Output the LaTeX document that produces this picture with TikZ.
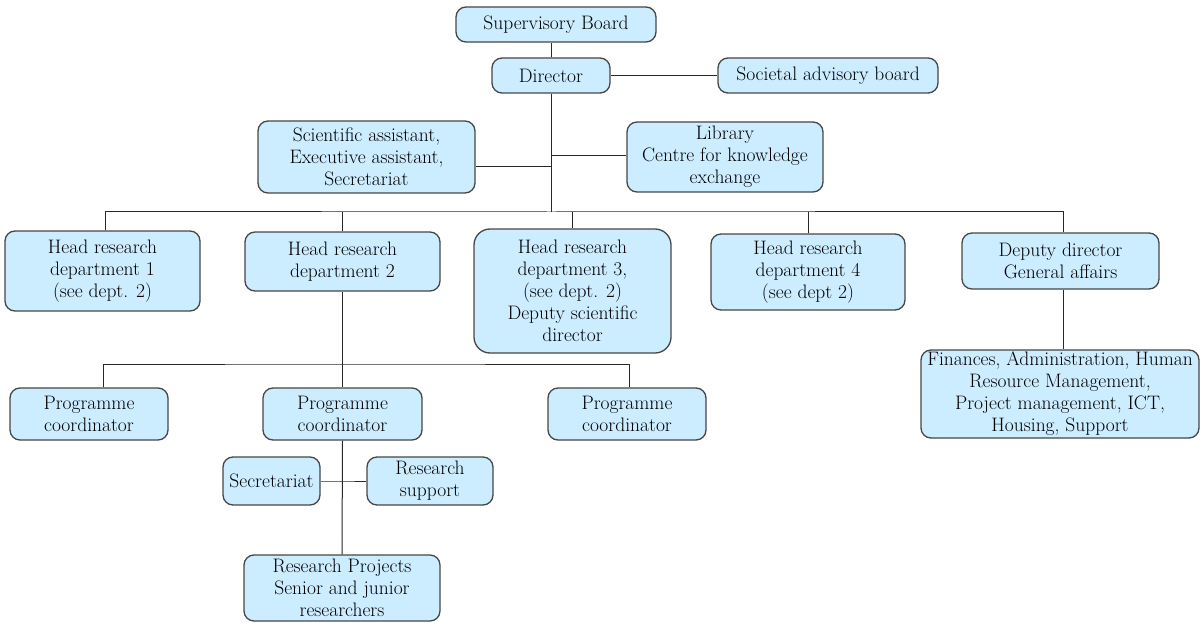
\documentclass[tikz,border=0pt]{standalone}
\usepackage{fontspec}
\definecolor{boxfill}{RGB}{204,236,255}
\definecolor{boxline}{RGB}{70,70,70}
\definecolor{conn}{RGB}{40,40,40}
\tikzset{
  box/.style={draw=boxline, line width=1.3pt, fill=boxfill, rounded corners=10pt,
    align=center, inner sep=0pt, font=\rmfamily\fontsize{19.5}{22}\selectfont},
  link/.style={draw=conn, line width=1pt}
}
\newcommand{\bx}[6]{% name, x1, y1, x2, y2, text
  \node[box, minimum width={#4-#2}, minimum height={#5-#3}] (#1) at ({(#2+#4)/2},{(#3+#5)/2}) {#6};}
\begin{document}
\begin{tikzpicture}[x=1pt,y=-1pt]
\useasboundingbox (0,0) rectangle (1203,623);
\bx{sb}{456}{7}{656}{42}{Supervisory Board}
\bx{dir}{492}{58}{610}{93}{Director}
\bx{soc}{718}{58}{938}{93}{Societal advisory board}
\bx{sci}{258}{121}{475}{193}{Scientific assistant,\\Executive assistant,\\Secretariat}
\bx{lib}{627}{122}{823}{192}{Library\\Centre for knowledge\\exchange}
\bx{d1}{5}{231}{200}{311}{Head research\\department 1\\(see dept. 2)}
\bx{d2}{245}{232}{440}{291}{Head research\\department 2}
\node[box, rounded corners=16pt, minimum width=197, minimum height=124] (d3) at (572.5,291) {Head research\\department 3,\\(see dept. 2)\\Deputy scientific\\director};
\bx{d4}{711}{234}{905}{310}{Head research\\department 4\\(see dept 2)}
\bx{dep}{962}{233}{1159}{289}{Deputy director\\General affairs}
\bx{fin}{921}{350}{1199}{438}{Finances, Administration, Human\\Resource Management,\\Project management, ICT,\\Housing, Support}
\bx{pc1}{10}{388}{168}{440}{Programme\\coordinator}
\bx{pc2}{263}{388}{422}{440}{Programme\\coordinator}
\bx{pc3}{548}{388}{706}{440}{Programme\\coordinator}
\bx{sec}{223}{457}{320}{505}{Secretariat}
\bx{rs}{367}{457}{493}{505}{Research\\support}
\bx{rp}{244}{555}{440}{621}{Research Projects\\Senior and junior\\researchers}

\coordinate (bar) at (551,212);
\coordinate (jl) at (551,167);
\coordinate (jr) at (551,156);
\coordinate (pcbar) at (344,364);
\coordinate (sr) at (344,481);

\draw[link] (dir.north) -- (dir.north |- sb.south);
\draw[link] (dir.east) -- (soc.west);
\draw[link] (dir.south) -- (bar);
\draw[link] (jl) -- (jl -| sci.east);
\draw[link] (jr) -- (jr -| lib.west);
\draw[link] ([xshift=2.5pt]d1.north) |- (bar) -| ([xshift=2.5pt]dep.north);
\draw[link] (d2.north) -- (d2.north |- bar);
\draw[link] (d3.north) -- (d3.north |- bar);
\draw[link] (d4.north) -- (d4.north |- bar);
\draw[link] ([xshift=2.5pt]dep.south) -- ([xshift=2.5pt]dep.south |- fin.north);
\draw[link] (d2.south) -- (pc2.north);
\draw[link] ([xshift=14pt]pc1.north) |- (pcbar) -| ([xshift=2pt]pc3.north);
\draw[link] (pc2.south) -- (rp.north);
\draw[link] (sec.east) -- (sr) -- (rs.west);
\end{tikzpicture}
\end{document}
